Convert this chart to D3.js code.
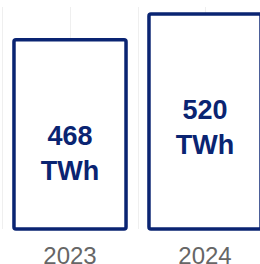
<!DOCTYPE html>
<html>
<head>
<meta charset="utf-8">
<script src="https://cdn.jsdelivr.net/npm/d3@7"></script>
<style>
  html, body { margin: 0; padding: 0; background: #fff; overflow: hidden; }
  svg { display: block; }
</style>
</head>
<body>
<div id="chart"></div>
<script>
const categories = ["2023", "2024"];
const values = [468, 520];
const unitLabel = "TWh";

const W = 260, H = 264;
const navy = "#0a2472";

const svg = d3.select("#chart").append("svg")
  .attr("width", W).attr("height", H)
  .style("font-family", "'Liberation Sans', Arial, sans-serif");

const x = d3.scaleBand()
  .domain(categories)
  .range([2.5, 272.5])
  .paddingInner(0.17)
  .paddingOuter(0.085);

const y = d3.scaleLinear()
  .domain([88, 540])
  .range([229, 4]);

// faint vertical gridlines at band boundaries and centres
const step = x.step();
const gridX = [];
categories.forEach((c, i) => {
  const start = x(c) - x.paddingInner() * step / 2;
  gridX.push(start);
  gridX.push(x(c) + x.bandwidth() / 2);
});
gridX.push(x(categories[categories.length - 1]) + x.bandwidth() + x.paddingInner() * step / 2);

svg.append("g").selectAll("line").data(gridX).join("line")
  .attr("x1", d => Math.round(d) + 0.5).attr("x2", d => Math.round(d) + 0.5)
  .attr("y1", 7).attr("y2", 229)
  .attr("stroke", "#efefef").attr("stroke-width", 1);

// bars
svg.append("g").selectAll("rect").data(values).join("rect")
  .attr("x", (d, i) => x(categories[i]))
  .attr("y", d => y(d))
  .attr("width", x.bandwidth())
  .attr("height", d => y.range()[0] - y(d))
  .attr("rx", 2).attr("ry", 2)
  .attr("fill", "#fff")
  .attr("stroke", navy)
  .attr("stroke-width", 3.5);

// value labels inside bars
const lbl = svg.append("g").selectAll("text").data(values).join("text")
  .attr("x", (d, i) => x(categories[i]) + x.bandwidth() / 2)
  .attr("y", d => y(d) + 105.5)
  .attr("text-anchor", "middle")
  .attr("fill", navy)
  .attr("font-family", "'Liberation Sans', Arial, sans-serif")
  .attr("font-weight", "bold")
  .attr("font-size", 27);
lbl.append("tspan").text(d => d3.format("d")(d));
lbl.append("tspan")
  .attr("x", (d, i) => x(categories[i]) + x.bandwidth() / 2)
  .attr("dy", 35)
  .text(unitLabel);

// category axis
const xAxis = d3.axisBottom(x).tickSize(0).tickPadding(0);
const ax = svg.append("g").attr("transform", "translate(0,247)").call(xAxis);
ax.select(".domain").remove();
ax.selectAll("text")
  .attr("font-size", 24)
  .attr("fill", "#666")
  .attr("font-family", "'Liberation Sans', Arial, sans-serif")
  .attr("dy", "0.71em");
</script>
</body>
</html>
